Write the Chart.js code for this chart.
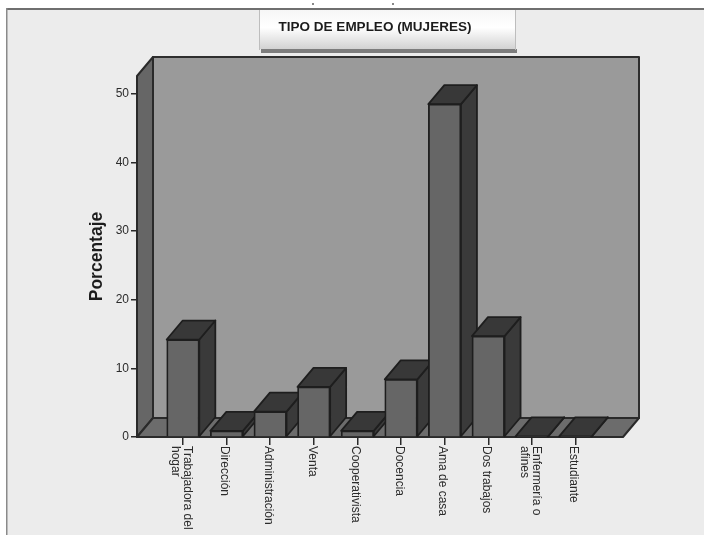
<!DOCTYPE html>
<html>
<head>
<meta charset="utf-8">
<script src="https://cdn.jsdelivr.net/npm/chart.js@4"></script>
<style>
  html, body { margin: 0; padding: 0; background: #fff; }
  canvas { display: block; filter: blur(0.5px); }
</style>
</head>
<body>
<canvas id="myBarChart" width="704" height="535"></canvas>
<script>
// |------------------------------- Data -------------------------------|
var chartTitle = 'TIPO DE EMPLEO (MUJERES)';
var yTitle = 'Porcentaje';
var categories = [
  ['Trabajadora del', 'hogar'], ['Dirección'], ['Administración'], ['Venta'], ['Cooperativista'],
  ['Docencia'], ['Ama de casa'], ['Dos trabajos'], ['Enfermería o', 'afines'], ['Estudiante']
];
var percentages = [14.2, 0.9, 3.7, 7.3, 0.9, 8.4, 48.5, 14.7, 0.1, 0.1];
var yTicks = [0, 10, 20, 30, 40, 50];

// depth of the fake 3D box
var depthX = 16;
var depthY = 19;

function poly(ctx, pts, fill, stroke, lw) {
  ctx.beginPath();
  ctx.moveTo(pts[0][0], pts[0][1]);
  for (var i = 1; i < pts.length; i++) ctx.lineTo(pts[i][0], pts[i][1]);
  ctx.closePath();
  ctx.fillStyle = fill;
  ctx.fill();
  ctx.strokeStyle = stroke;
  ctx.lineWidth = lw;
  ctx.lineJoin = 'round';
  ctx.stroke();
}

// |------------------------------- Panel, title box and walls -------------------------------|
var backdrop = {
  id: 'backdrop',
  beforeDraw: function (chart) {
    var ctx = chart.ctx, a = chart.chartArea;
    ctx.save();
    // grey panel, runs off the right and bottom edges
    ctx.fillStyle = '#ececec';
    ctx.fillRect(7, 9, 697, 526);
    ctx.fillStyle = '#6f6f6f';
    ctx.fillRect(6, 8, 698, 2);
    ctx.fillStyle = '#8a8a8a';
    ctx.fillRect(6, 8, 1.5, 527);

    // specks above the panel
    ctx.fillStyle = '#888';
    ctx.fillRect(312, 3, 2, 2);
    ctx.fillRect(392, 3, 2, 2);

    // title box
    var g = ctx.createLinearGradient(0, 10, 0, 49);
    g.addColorStop(0, '#f6f6f6');
    g.addColorStop(0.45, '#ffffff');
    g.addColorStop(1, '#d2d2d2');
    ctx.fillStyle = g;
    ctx.fillRect(260, 10, 256, 39);
    ctx.fillStyle = '#7d7d7d';
    ctx.fillRect(261, 49, 256, 4);
    ctx.fillStyle = '#bdbdbd';
    ctx.fillRect(259, 10, 1, 40);
    ctx.fillRect(515, 10, 1, 40);
    ctx.fillStyle = '#1c1c1c';
    ctx.font = 'bold 13.5px "Liberation Sans", Arial, sans-serif';
    ctx.textAlign = 'center';
    ctx.textBaseline = 'middle';
    ctx.fillText(chartTitle, 375, 27);

    // back wall, left wall, floor
    poly(ctx, [[a.left + depthX, a.top - depthY], [a.right + depthX, a.top - depthY],
      [a.right + depthX, a.bottom - depthY], [a.left + depthX, a.bottom - depthY]], '#9a9a9a', '#2e2e2e', 2);
    poly(ctx, [[a.left, a.top], [a.left + depthX, a.top - depthY],
      [a.left + depthX, a.bottom - depthY], [a.left, a.bottom]], '#666666', '#2a2a2a', 2);
    poly(ctx, [[a.left, a.bottom], [a.right, a.bottom],
      [a.right + depthX, a.bottom - depthY], [a.left + depthX, a.bottom - depthY]], '#6c6c6c', '#2a2a2a', 2);
    ctx.restore();
  },
  // side and top faces, the library draws the front face after this
  beforeDatasetsDraw: function (chart) {
    var ctx = chart.ctx;
    ctx.save();
    chart.getDatasetMeta(0).data.forEach(function (bar) {
      var l = bar.x - bar.width / 2, r = bar.x + bar.width / 2;
      poly(ctx, [[r, bar.y], [r + depthX, bar.y - depthY], [r + depthX, bar.base - depthY], [r, bar.base]], '#3a3a3a', '#1e1e1e', 1.8);
      poly(ctx, [[l, bar.y], [l + depthX, bar.y - depthY], [r + depthX, bar.y - depthY], [r, bar.y]], '#383838', '#1e1e1e', 1.8);
    });
    ctx.restore();
  },
  // x labels read downwards, which the tick options can't anchor at the axis
  afterDraw: function (chart) {
    var ctx = chart.ctx, xs = chart.scales.x, a = chart.chartArea;
    ctx.save();
    ctx.fillStyle = '#2b2b2b';
    ctx.font = '12px "Liberation Sans", Arial, sans-serif';
    ctx.textAlign = 'left';
    ctx.textBaseline = 'middle';
    categories.forEach(function (lines, i) {
      ctx.save();
      ctx.translate(xs.getPixelForValue(i) - 2, a.bottom + 9);
      ctx.rotate(Math.PI / 2);
      lines.forEach(function (line, n) {
        ctx.fillText(line, 0, (n - (lines.length - 1) / 2) * 12);
      });
      ctx.restore();
    });
    ctx.restore();
  }
};

// |------------------------------- Chart.js - Bar Chart -------------------------------|
var ctx = document.getElementById('myBarChart').getContext('2d');
var myBarChart = new Chart(ctx, {
  type: 'bar',
  data: {
    datasets: [{
      data: percentages.map(function (v, i) { return { x: i, y: v }; }),
      backgroundColor: '#666666',
      borderColor: '#1e1e1e',
      borderWidth: 1.8,
      barThickness: 32.6
    }]
  },
  options: {
    responsive: false,
    animation: false,
    layout: { padding: { left: 80, right: 81, top: 76, bottom: 0 } },
    plugins: { legend: { display: false }, tooltip: { enabled: false }, title: { display: false } },
    scales: {
      x: {
        type: 'linear',
        offset: false,
        min: -1.055,
        max: 10.09,
        afterBuildTicks: function (scale) {
          scale.ticks = categories.map(function (c, i) { return { value: i }; });
        },
        afterFit: function (scale) { scale.height = 98; },
        ticks: { display: false },
        grid: { offset: false, drawOnChartArea: false, drawTicks: true, tickLength: 8, color: '#2a2a2a', lineWidth: 1.5 },
        border: { display: false }
      },
      y: {
        min: 0,
        max: 52.6,
        afterBuildTicks: function (scale) {
          scale.ticks = yTicks.map(function (v) { return { value: v }; });
        },
        afterFit: function (scale) { scale.width = 57; },
        title: {
          display: true,
          text: yTitle,
          color: '#1c1c1c',
          font: { family: '"Liberation Sans", Arial, sans-serif', size: 17.5, weight: 'bold' },
          padding: { top: 7, bottom: 0 }
        },
        ticks: {
          color: '#2b2b2b',
          padding: 2,
          font: { family: '"Liberation Sans", Arial, sans-serif', size: 12 }
        },
        grid: { drawOnChartArea: false, drawTicks: true, tickLength: 6, color: '#2a2a2a', lineWidth: 1.5 },
        border: { display: false }
      }
    }
  },
  plugins: [backdrop]
});
</script>
</body>
</html>
